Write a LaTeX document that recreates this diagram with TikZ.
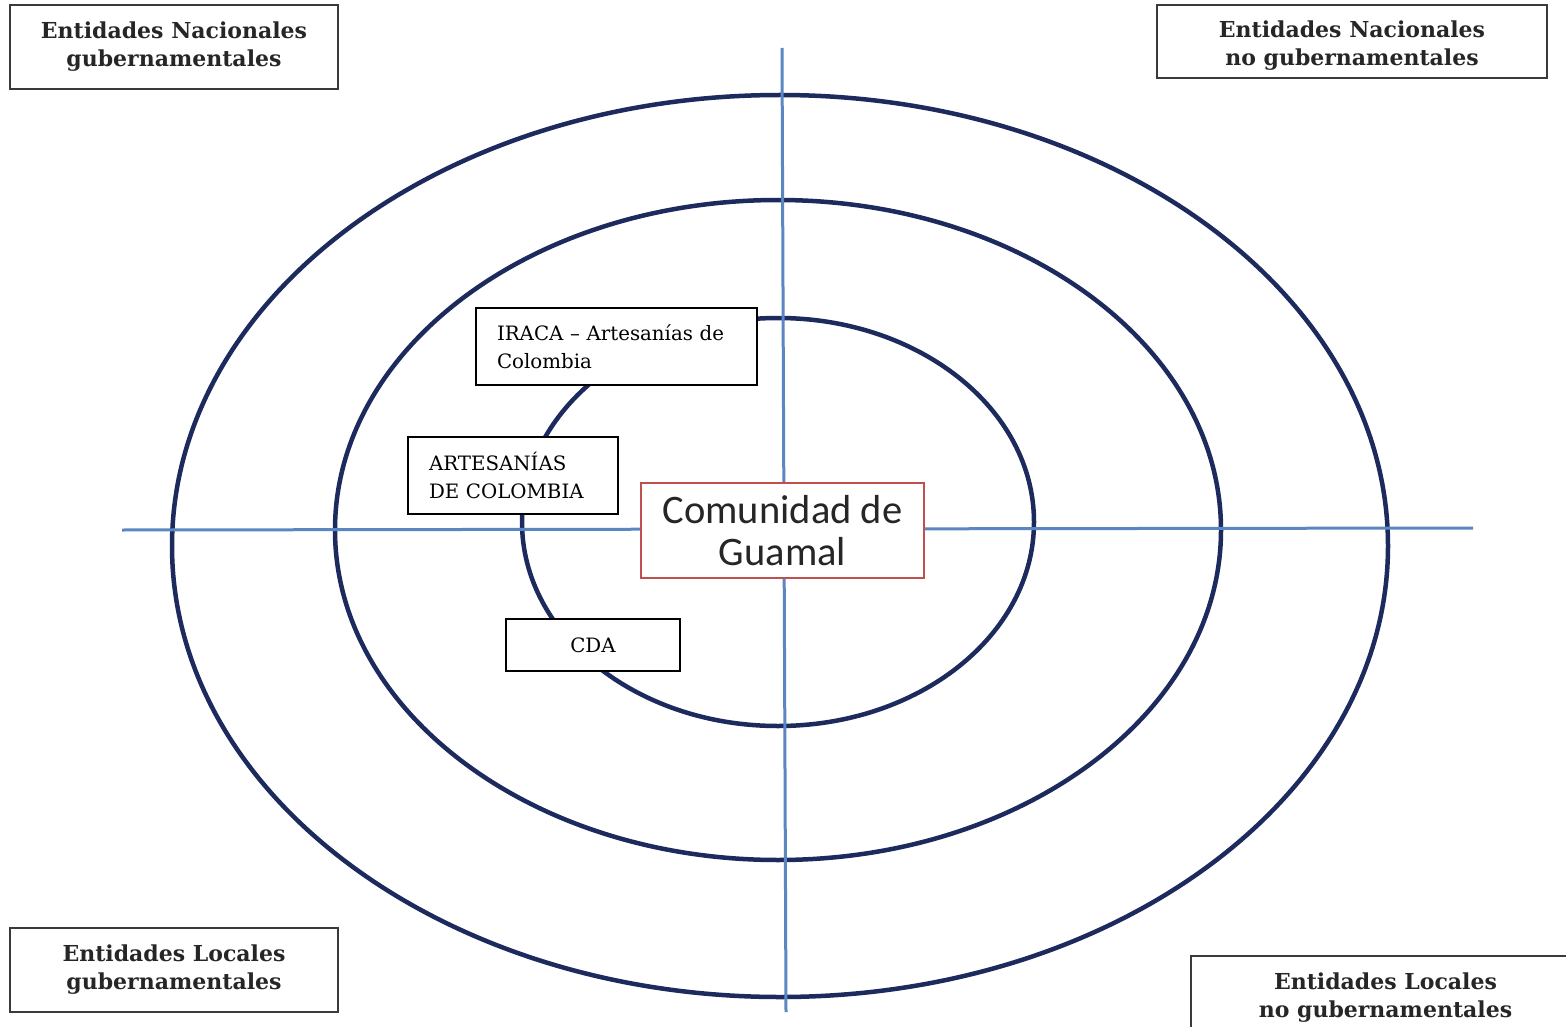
\documentclass[tikz,border=0pt]{standalone}
\usepackage{fontspec}
\setmainfont{DejaVu Serif}
\newfontfamily\calib{Carlito}
\definecolor{ringc}{HTML}{1C2A5E}
\definecolor{axisc}{HTML}{5A86C2}
\definecolor{cboxc}{HTML}{3A3A3A}
\definecolor{redc}{HTML}{C0504D}
\begin{document}
\begin{tikzpicture}[x=1pt,y=-1pt,
  ring/.style={draw=ringc, line width=4.5pt},
  axisline/.style={draw=axisc, line width=3pt},
  cornerbox/.style={draw=cboxc, line width=2pt, fill=white, inner sep=0pt, align=center,
     font=\fontsize{22}{28}\selectfont\bfseries, text=black!85},
  cornertext/.style={inner sep=0pt, align=center,
     font=\fontsize{22}{28}\selectfont\bfseries, text=black!85},
  labelbox/.style={draw=black, line width=1.6pt, fill=white, inner ysep=0pt, inner xsep=21pt,
     align=left, font=\fontsize{19.8}{28}\selectfont},
  centerbox/.style={draw=redc, line width=2.5pt, fill=white, inner sep=0pt, align=center,
     font=\calib\fontsize{40.5}{42}\selectfont, text=black!85}]
\useasboundingbox (0,0) rectangle (1566,1027);
\fill[white] (0,0) rectangle (1566,1027);
% rings
\draw[ring] (780,546) ellipse [x radius=608, y radius=451];
\draw[ring] (778,530) ellipse [x radius=443, y radius=330];
\draw[ring] (778,522) ellipse [x radius=256, y radius=204];
% axes
\coordinate (hl) at (122,530);
\coordinate (hr) at (1473,528);
\coordinate (vt) at (782,48);
\coordinate (vb) at (786,1012);
\draw[axisline] (hl) -- (hr);
\draw[axisline] (vt) -- (vb);
% corner boxes
\node[cornerbox, minimum width=328, minimum height=84] (tl) at (174,47)
  {Entidades Nacionales\\gubernamentales};
\node[cornerbox, minimum width=390, minimum height=73] (tr) at (1352,41.5) {};
\node[cornertext] (trtext) at (1352,46)
  {Entidades Nacionales\\no gubernamentales};
\node[cornerbox, minimum width=328, minimum height=84] (bl) at (174,970)
  {Entidades Locales\\gubernamentales};
\node[cornerbox, minimum width=389, minimum height=84] (br) at (1385.5,998)
  {Entidades Locales\\no gubernamentales};
% inner labels
\node[labelbox, text width=239, minimum height=77] (iraca) at (616.5,346.5)
  {IRACA – Artesanías de\\Colombia};
\node[labelbox, text width=168, minimum height=77] (artes) at (513,475.5)
  {ARTESANÍAS\\DE COLOMBIA};
\node[labelbox, inner xsep=0pt, align=center, minimum width=174, minimum height=52] (cda) at (593,645)
  {CDA};
\node[centerbox, minimum width=283, minimum height=95] (guamal) at (782.5,530.5)
  {Comunidad de\\Guamal};
\end{tikzpicture}
\end{document}
